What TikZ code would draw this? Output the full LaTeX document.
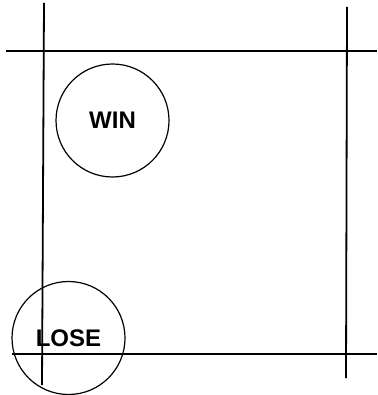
\documentclass[tikz,border=0pt]{standalone}
\usepackage{fontspec}
\setmainfont{Liberation Sans}
\begin{document}
\begin{tikzpicture}[x=1pt,y=-1pt,
  gridline/.style={line width=1.8pt,black},
  token/.style={circle,draw,line width=1.2pt,minimum size=113pt,inner sep=0pt,
    font=\bfseries\fontsize{24}{24}\selectfont}]
\useasboundingbox (0,0) rectangle (377,395);
% grid line end points
\coordinate (lt) at (44,3);
\coordinate (lb) at (42,385);
\coordinate (rt) at (347,7);
\coordinate (rb) at (346,378);
\coordinate (tl) at (6,51);
\coordinate (tr) at (377,51);
\coordinate (bl) at (12,354);
\coordinate (br) at (377,354);
\draw[gridline] (lt) -- (lb);
\draw[gridline] (rt) -- (rb);
\draw[gridline] (tl) -- (tr);
\draw[gridline] (bl) -- (br);
% circles
\node[token] (win) at (112.5,120.5) {WIN};
\node[token] (lose) at (68.5,338) {LOSE};
\end{tikzpicture}
\end{document}
